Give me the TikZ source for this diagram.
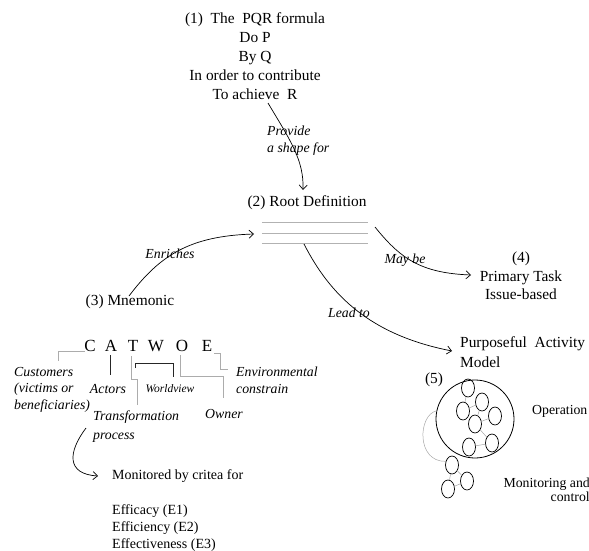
\documentclass[tikz,border=0pt]{standalone}
\usepackage{fontspec}
\setmainfont{Liberation Serif}
\usetikzlibrary{arrows.meta,shapes.geometric}
\begin{document}
\begin{tikzpicture}[x=1pt,y=-1pt,
  body/.style={inner sep=0pt, font=\fontsize{15.4}{19}\selectfont},
  small/.style={inner sep=0pt, font=\fontsize{14}{17}\selectfont},
  lbl/.style={inner sep=0pt, font=\fontsize{13.8}{17}\selectfont\itshape},
  letter/.style={inner sep=0pt, font=\fontsize{17}{20}\selectfont},
  conn/.style={line width=0.7pt, -{Straight Barb[length=4.5pt,width=8pt]}},
  rule/.style={draw=gray!60, line width=1pt},
  lead/.style={draw=gray!65, line width=0.7pt},
  darklead/.style={draw=black!85, line width=0.7pt},
  link/.style={draw=gray!70, line width=0.5pt},
  bub/.style={ellipse, draw, line width=0.7pt, minimum width=13pt, minimum height=18pt, inner sep=0pt}]
\useasboundingbox (0,0) rectangle (589,551);

% (1) the PQR formula
\node[body, align=center] (pqr) at (255,56)
  {(1)\ \ The\ \ PQR formula\\Do P\\By Q\\In order to contribute\\To achieve\ \ R};
\node[lbl, align=left, anchor=west] (provide) at (267,140.5) {Provide\\a shape for};

% (2) root definition
\node[body] (rd) at (307,203) {(2) Root Definition};
\node[minimum width=106pt, minimum height=20pt, inner sep=0pt] (rdl) at (315,233) {};
\draw[rule] (rdl.north west) -- (rdl.north east);
\draw[rule] (rdl.west) -- (rdl.east);
\draw[rule] (rdl.south west) -- (rdl.south east);

% (3) mnemonic
\node[body] (mn) at (130,302) {(3) Mnemonic};
\node[lbl] (enr) at (170,254) {Enriches};

% (4) primary task
\node[inner sep=0pt, font=\fontsize{15.4}{18.5}\selectfont, align=center] (pt) at (521,276)
  {(4)\\Primary Task\\Issue-based};
\node[lbl] (maybe) at (405,260) {May be};

% (5) purposeful activity model
\node[body, align=left, anchor=west] (pam) at (460,352) {Purposeful\ \ Activity\\[1pt]Model};
\node[lbl] (lead) at (349,313) {Lead to};
\node[body] (five) at (434,380) {(5)};

% arrow end points
\coordinate (pqrOut) at (268,103);
\coordinate (rdIn)   at (303,190);
\coordinate (mnOut)  at (129,296);
\coordinate (rdLeft) at (254,234);
\coordinate (rdRight) at (375,227);
\coordinate (ptIn)   at (471,275);
\coordinate (rdDown) at (304,244);
\coordinate (pamIn)  at (452,351);

\draw[conn] (pqrOut) .. controls (290,140) and (304,160) .. (rdIn);
\draw[conn] (mnOut) .. controls (160,255) and (190,236) .. (rdLeft);
\draw[conn] (rdRight) .. controls (400,258) and (420,273) .. (ptIn);
\draw[conn] (rdDown) .. controls (330,295) and (370,335) .. (pamIn);

% CATWOE
\node[letter] (cC) at (90,346) {C};
\node[letter] (cA) at (111,346) {A};
\node[letter] (cT) at (133,346) {T};
\node[letter] (cW) at (156,346) {W};
\node[letter] (cO) at (182,346) {O};
\node[letter] (cE) at (207,346) {E};

\draw[lead] (85,351) -- (58,351) -- (58,361);
\draw[darklead] (110,355) -- (110,375);
\draw[lead] (131,356) -- (131,379) -- (137,379) -- (137,405);
\draw[darklead] (135,368) -- (135,363) -- (173,363) -- (173,377);
\draw[lead] (180,355) -- (180,376) -- (223,376) -- (223,398);
\draw[lead] (214,353) -- (220,353) -- (220,369) -- (228,369);

\node[lbl, align=left, anchor=west, font=\fontsize{13.8}{16.5}\selectfont\itshape] (cust) at (14,389.5)
  {Customers\\(victims or\\beneficiaries)};
\node[lbl] (act) at (108,389) {Actors};
\node[inner sep=0pt, font=\fontsize{11.5}{14}\selectfont\itshape] (wv) at (170,389) {Worldview};
\node[lbl, align=left, anchor=west, font=\fontsize{13.8}{19}\selectfont\itshape] (tp) at (93,426.5)
  {Transformation\\process};
\node[lbl] (own) at (224,414) {Owner};
\node[lbl, align=left, anchor=west] (env) at (236,380.5) {Environmental\\constrain};

% monitoring criteria
\node[small, anchor=west] (mon) at (112,476) {Monitored by critea for};
\node[small, align=left, anchor=west] (crit) at (112,528)
  {Efficacy (E1)\\Efficiency (E2)\\Effectiveness (E3)};
\coordinate (tpOut) at (86,428);
\coordinate (monIn) at (98,476);
\draw[conn] (tpOut) .. controls (68,452) and (66,474) .. (monIn);

% activity model sketch
\node[circle, draw, line width=0.8pt, minimum size=78pt, inner sep=0pt] (big) at (475,419) {};
\node[bub] (e1) at (468,388) {};
\node[bub] (e2) at (482,402) {};
\node[bub] (e3) at (463,411) {};
\node[bub] (e4) at (495,416) {};
\node[bub] (e5) at (475,424) {};
\node[bub] (e6) at (492,443) {};
\node[bub] (e7) at (469,447) {};
\node[bub] (e8) at (452,465) {};
\node[bub] (e9) at (467,481) {};
\node[bub] (e10) at (448,489) {};
\draw[link] (e1) -- (e3);
\draw[link] (e3) -- (e2);
\draw[link] (e2) -- (e5);
\draw[link] (e5) -- (e4);
\draw[link] (e5) -- (e6);
\draw[link] (e6) -- (e7);
\draw[link] (e8) -- (e9);
\draw[link] (e8) -- (e10);
\draw[link] (e9) -- (e10);
\draw[link] (big.168) .. controls (418,415) and (416,462) .. (e8.150);

\node[inner sep=0pt, font=\fontsize{13.8}{16}\selectfont, anchor=west] (ops) at (532,411) {Operation};
\node[inner sep=0pt, font=\fontsize{13.8}{14.5}\selectfont, align=right, anchor=east] (mc) at (590,490)
  {Monitoring and\\control};
\end{tikzpicture}
\end{document}
